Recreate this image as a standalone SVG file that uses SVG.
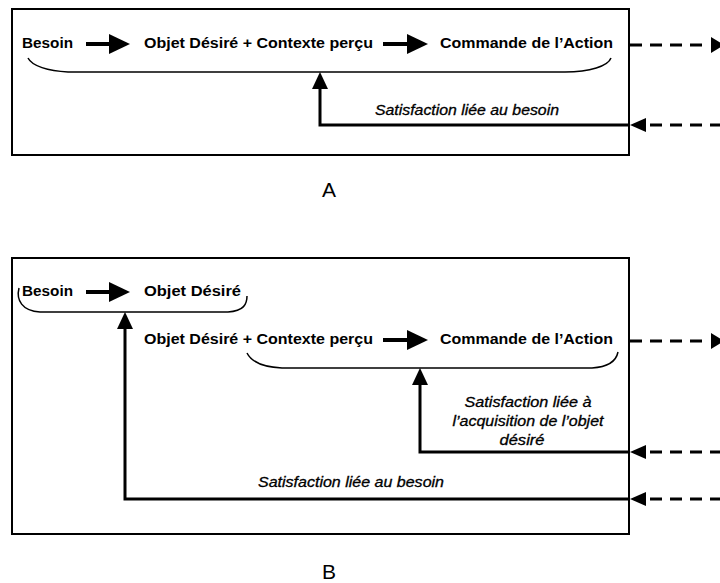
<svg xmlns="http://www.w3.org/2000/svg" width="720" height="583" viewBox="0 0 720 583">
<style>
.frame{fill:none;stroke:#000;stroke-width:2}
.t{font-family:"Liberation Sans",Arial,sans-serif;font-weight:bold;font-size:14.5px;fill:#000}
.i{font-family:"Liberation Sans",Arial,sans-serif;font-style:italic;font-size:14px;fill:#000;stroke:#000;stroke-width:0.3}
.lbl{font-family:"Liberation Sans",Arial,sans-serif;font-size:21px;fill:#000}
.sh{stroke:#000;stroke-width:4;fill:none}
.ln{stroke:#000;stroke-width:3;fill:none}
.br{stroke:#000;stroke-width:1.5;fill:none}
.ds{stroke:#000;stroke-width:3;fill:none;stroke-dasharray:12 8}
.hd{fill:#000}
</style>
<rect width="720" height="583" fill="#fff"/>

<g id="panelA">
  <rect class="frame" x="12" y="9" width="617" height="146"/>
  <g id="A-besoin"><text class="t" x="22" y="48" textLength="51" lengthAdjust="spacingAndGlyphs">Besoin</text></g>
  <g id="A-objet"><text class="t" x="144" y="48" textLength="229" lengthAdjust="spacingAndGlyphs">Objet Désiré + Contexte perçu</text></g>
  <g id="A-commande"><text class="t" x="440" y="48" textLength="173" lengthAdjust="spacingAndGlyphs">Commande de l’Action</text></g>
  <g id="A-brace"><path class="br" d="M28,58 C32,66 48,71 68,72 L565,72 C590,72 608,66 611,58"/></g>
  <g id="A-satisfaction"><text class="i" x="375" y="115" textLength="184" lengthAdjust="spacingAndGlyphs">Satisfaction liée au besoin</text></g>
  <text class="lbl" x="322" y="197">A</text>
</g>

<g id="panelB">
  <rect class="frame" x="12" y="258" width="617" height="276"/>
  <g id="B-besoin"><text class="t" x="22" y="296" textLength="51" lengthAdjust="spacingAndGlyphs">Besoin</text></g>
  <g id="B-objet"><text class="t" x="144" y="296" textLength="97" lengthAdjust="spacingAndGlyphs">Objet Désiré</text></g>
  <g id="B-brace1"><path class="br" d="M19,288 C16,300 22,311 40,312 L228,312 C244,311 247,304 247,296"/></g>
  <g id="B-objetctx"><text class="t" x="144" y="344" textLength="229" lengthAdjust="spacingAndGlyphs">Objet Désiré + Contexte perçu</text></g>
  <g id="B-commande"><text class="t" x="440" y="344" textLength="173" lengthAdjust="spacingAndGlyphs">Commande de l’Action</text></g>
  <g id="B-brace2"><path class="br" d="M247,353 C251,361 262,367 282,368 L592,368 C608,367 616,362 618,352"/></g>
  <g id="B-sat1">
    <text class="i" x="528" y="407" text-anchor="middle" textLength="127" lengthAdjust="spacingAndGlyphs">Satisfaction liée à</text>
    <text class="i" x="528" y="426" text-anchor="middle" textLength="151" lengthAdjust="spacingAndGlyphs">l’acquisition de l’objet</text>
    <text class="i" x="522" y="445" text-anchor="middle" textLength="45" lengthAdjust="spacingAndGlyphs">désiré</text>
  </g>
  <g id="B-sat2"><text class="i" x="258" y="487" textLength="186" lengthAdjust="spacingAndGlyphs">Satisfaction liée au besoin</text></g>
  <text class="lbl" x="322" y="579">B</text>
</g>

<g id="connectors">
  <!-- A -->
  <line class="sh" x1="86" y1="44" x2="112" y2="44"/>
  <polygon class="hd" points="109,34 130,44 109,54"/>
  <line class="sh" x1="383" y1="44" x2="410" y2="44"/>
  <polygon class="hd" points="407,34 428,44 407,54"/>
  <line class="ds" x1="630" y1="45" x2="708" y2="45"/>
  <polygon class="hd" points="711,37 724,45 711,53"/>
  <path class="ln" d="M629,125 L320,125 L320,86"/>
  <polygon class="hd" points="312,89 320,72 328,89"/>
  <polygon class="hd" points="630,125 646,118 646,132"/>
  <line class="ds" x1="650" y1="125" x2="720" y2="125"/>
  <!-- B -->
  <line class="sh" x1="86" y1="292" x2="112" y2="292"/>
  <polygon class="hd" points="109,282 130,292 109,302"/>
  <line class="sh" x1="383" y1="340" x2="410" y2="340"/>
  <polygon class="hd" points="407,330 428,340 407,350"/>
  <line class="ds" x1="630" y1="341" x2="708" y2="341"/>
  <polygon class="hd" points="711,333 724,341 711,349"/>
  <path class="ln" d="M629,452 L420,452 L420,382"/>
  <polygon class="hd" points="412,385 420,368 428,385"/>
  <polygon class="hd" points="630,452 646,445 646,459"/>
  <line class="ds" x1="650" y1="452" x2="720" y2="452"/>
  <path class="ln" d="M629,499 L125,499 L125,326"/>
  <polygon class="hd" points="117,329 125,312 133,329"/>
  <polygon class="hd" points="630,499 646,492 646,506"/>
  <line class="ds" x1="650" y1="499" x2="720" y2="499"/>
</g>
</svg>
